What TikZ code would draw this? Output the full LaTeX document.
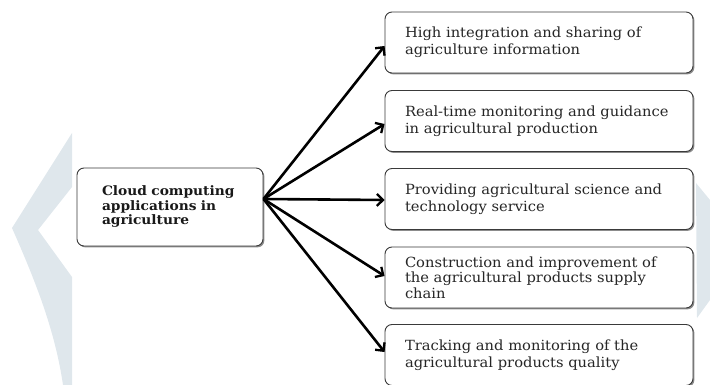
\documentclass[tikz,border=0pt]{standalone}
\usepackage{fontspec}
\setmainfont{DejaVu Serif}[FakeStretch=1.05]
\newfontfamily\rootfont{DejaVu Serif}[FakeStretch=1.06]
\usetikzlibrary{arrows.meta,shadows,calc}
\definecolor{wm}{HTML}{DFE7EC}
\definecolor{boxline}{HTML}{3A3A3A}
\hyphenpenalty=10000
\begin{document}
\begin{tikzpicture}[x=1pt,y=-1pt,
  wmark/.style={fill=wm,draw=none},
  bbox/.style={draw=boxline,line width=0.9pt,rounded corners=7pt,fill=white,
    drop shadow={shadow xshift=1.4pt,shadow yshift=-1.4pt,opacity=0.6,fill=black!75},
    align=left,inner ysep=0pt},
  leaf/.style={bbox,inner xsep=20pt,text width=268pt,minimum height=61pt,
    font=\fontsize{14}{17}\selectfont,text=black!85},
  root/.style={bbox,inner xsep=25pt,text width=136pt,minimum height=78pt,
    font=\rootfont\fontsize{13}{14.5}\selectfont\bfseries,text=black!90},
  link/.style={line width=2.6pt,-{Straight Barb[length=6pt,width=12pt,line width=2.3pt]}}
]
\useasboundingbox (0,0) rectangle (710,385);
% watermark
\fill[wmark] (72,133) -- (12,228) .. controls (35,280) and (55,330) .. (63,385)
  -- (72,385) -- (72,277) -- (38,230) -- (72,187) -- cycle;
\fill[wmark] (696,183) -- (710,200) -- (710,300) -- (697,318) -- cycle;

\node[root] (c) at (170,207) {Cloud computing\\applications in\\agriculture};

\node[leaf] (b1) at (539,42.5) {High integration and sharing of\\agriculture information};
\node[leaf] (b2) at (539,121) {Real-time monitoring and guidance\\in agricultural production};
\node[leaf] (b3) at (539,199) {Providing agricultural science and\\technology service};
\node[leaf,font=\fontsize{14}{15.5}\selectfont] (b4) at (539,277.5) {Construction and improvement of\\the agricultural products supply\\chain};
\node[leaf] (b5) at (539,355) {Tracking and monitoring of the\\agricultural products quality};

\coordinate (src) at ([yshift=8pt]c.east);
\draw[link] (src) -- ([yshift=-3.5pt]b1.west);
\draw[link] (src) -- ([yshift=-3pt]b2.west);
\draw[link] (src) -- ([yshift=-1pt]b3.west);
\draw[link] (src) -- ([yshift=1.5pt]b4.west);
\draw[link] (src) -- ([yshift=3pt]b5.west);
\end{tikzpicture}
\end{document}
